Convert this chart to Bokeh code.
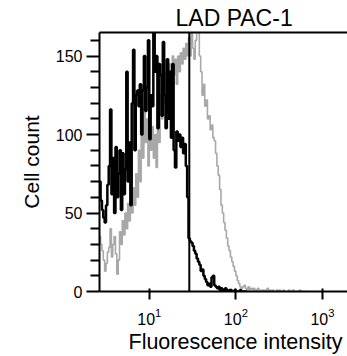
import numpy as np
from bokeh.plotting import figure
from bokeh.models import FixedTicker, LinearAxis, Range1d, Span, Title
from bokeh.embed import file_html
from bokeh.resources import INLINE

# Histogram channels: 64 channels per decade on a log scale
CHANNELS_PER_DECADE = 64
first_channel = 26

# Black histogram (control) counts, channel 26 onwards
black_counts = [62, 70, 58, 52, 47, 44, 55, 68, 80, 116,
                62, 85, 50, 92, 60, 75, 90, 52, 88, 62,
                78, 140, 70, 95, 55, 120, 154, 90, 125, 128,
                118, 132, 100, 128, 150, 115, 130, 160, 97, 125,
                118, 168, 140, 150, 104, 145, 138, 112, 159, 125,
                104, 148, 110, 140, 98, 145, 90, 79, 102, 96,
                100, 92, 98, 88, 94, 80, 60, 34, 32, 31,
                29, 26, 24, 21, 19, 17, 13, 14, 10, 8,
                6, 4, 5, 3, 9, 10, 4, 3, 2, 3,
                1, 2, 1, 1, 2, 1, 0, 1, 1, 0,
                0, 1, 0, 0, 0, 1, 0, 0, 0, 0]

# Gray histogram (LAD PAC-1) counts, channel 26 onwards
gray_counts = [38, 35, 30, 26, 20, 13, 18, 25, 28, 40,
               22, 30, 35, 24, 11, 20, 38, 30, 45, 36,
               50, 40, 56, 45, 60, 50, 66, 55, 75, 60,
               90, 70, 105, 85, 118, 95, 110, 80, 117, 90,
               105, 85, 100, 79, 112, 95, 125, 110, 135, 120,
               140, 125, 130, 145, 135, 150, 138, 148, 132, 150,
               140, 152, 145, 155, 148, 158, 150, 162, 150, 165,
               155, 148, 160, 170, 172, 150, 140, 125, 132, 118,
               122, 110, 112, 103, 106, 98, 96, 88, 80, 74,
               65, 55, 50, 44, 39, 34, 29, 26, 22, 19,
               16, 13, 10, 7, 5, 3, 2, 3, 4, 2,
               1, 3, 1, 2, 1, 2, 0, 1, 2, 1,
               0, 1, 1, 0, 1, 2, 0, 1, 0, 1,
               0, 0, 1, 0, 1, 0, 0, 1, 0, 0,
               0, 1, 0, 0, 1, 0, 0, 0, 0, 1,
               0, 0, 0, 0, 0]

gate_position = 29
y_ticks = [0, 50, 100, 150]
y_minor_ticks = [10, 20, 30, 40, 60, 70, 80, 90, 110, 120, 130, 140, 160]
x_ticks = [10, 100, 1000]

FONT = "Liberation Sans"


def step_xy(counts):
    ch = np.arange(first_channel, first_channel + len(counts) + 1)
    x = 10.0 ** (ch / CHANNELS_PER_DECADE)
    y = list(counts) + [0]
    return x, y


p = figure(width=347, height=356, x_axis_type="log",
           x_range=Range1d(2.66, 1950), y_range=Range1d(0, 165),
           output_backend="svg", toolbar_location=None,
           min_border_left=99, min_border_right=0,
           min_border_top=32, min_border_bottom=65)

p.background_fill_color = "white"
p.border_fill_color = "white"
p.outline_line_color = None
p.xgrid.visible = False
p.ygrid.visible = False

gx, gy = step_xy(gray_counts)
p.step(gx, gy, mode="after", line_color="#a8a8a8", line_width=1.6)
bx, by = step_xy(black_counts)
p.step(bx, by, mode="after", line_color="black", line_width=2.5)

p.add_layout(Span(location=gate_position, dimension="height",
                  line_color="black", line_width=2))

# Y axis
ya = p.yaxis[0]
ya.ticker = FixedTicker(ticks=y_ticks, minor_ticks=y_minor_ticks)
ya.axis_line_width = 2
ya.major_tick_line_width = 2
ya.minor_tick_line_width = 2
ya.major_tick_out = 13
ya.major_tick_in = 0
ya.minor_tick_out = 9
ya.minor_tick_in = 0
ya.major_label_text_font = FONT
ya.major_label_text_font_size = "16px"
ya.major_label_text_color = "black"
ya.major_label_standoff = 4
ya.axis_label = "Cell count"
ya.axis_label_text_font = FONT
ya.axis_label_text_font_size = "21px"
ya.axis_label_text_font_style = "normal"
ya.axis_label_text_color = "black"
ya.axis_label_standoff = 10

# X axis
xa = p.xaxis[0]
xa.ticker = FixedTicker(ticks=x_ticks, minor_ticks=[])
xa.axis_line_width = 2
xa.major_tick_line_width = 2
xa.major_tick_out = 8
xa.major_tick_in = 3
xa.minor_tick_line_color = None
xa.major_label_text_font = FONT
xa.major_label_text_font_size = "16px"
xa.major_label_text_color = "black"
xa.major_label_standoff = 8

# top frame line
top = LinearAxis(axis_line_width=2, ticker=FixedTicker(ticks=[], minor_ticks=[]),
                 major_tick_line_color=None, minor_tick_line_color=None,
                 major_label_standoff=0)
p.add_layout(top, "above")

p.title.text = "LAD PAC-1"
p.title.align = "left"
p.title.offset = 76
p.title.text_font = FONT
p.title.text_font_size = "23px"
p.title.text_font_style = "normal"
p.title.text_color = "black"
p.title.standoff = 3

p.add_layout(Title(text="Fluorescence intensity", align="left", offset=29,
                   text_font=FONT, text_font_size="21.5px",
                   text_font_style="normal", text_color="black",
                   standoff=0), "below")

open("out.html", "w").write(file_html(p, INLINE))
